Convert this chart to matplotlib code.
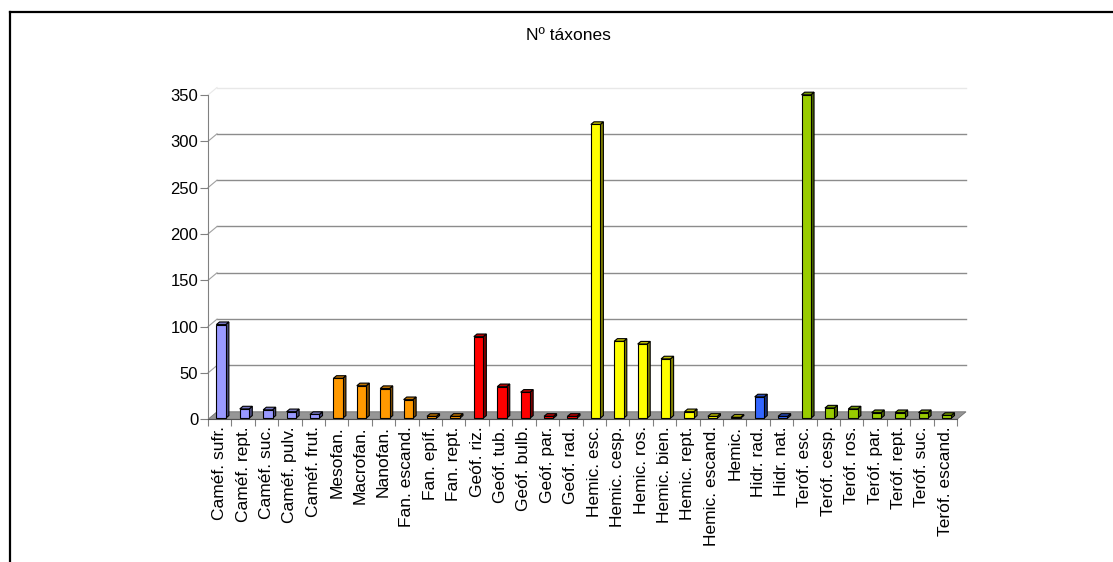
import matplotlib
matplotlib.use("Agg")
import matplotlib.pyplot as plt
from matplotlib.patches import Polygon
from matplotlib.transforms import IdentityTransform, ScaledTranslation
from matplotlib.lines import Line2D
import matplotlib.colors as mcolors
import numpy as np

# ---------------- data ----------------
categories = [
    "Caméf. sufr.", "Caméf. rept.", "Caméf. suc.", "Caméf. pulv.", "Caméf. frut.",
    "Mesofan.", "Macrofan.", "Nanofan.", "Fan. escand.", "Fan. epíf.", "Fan. rept.",
    "Geóf. riz.", "Geóf. tub.", "Geóf. bulb.", "Geóf. par.", "Geóf. rad.",
    "Hemic. esc.", "Hemic. cesp.", "Hemic. ros.", "Hemic. bien.", "Hemic. rept.",
    "Hemic. escand.", "Hemic.",
    "Hidr. rad.", "Hidr. nat.",
    "Teróf. esc.", "Teróf. cesp.", "Teróf. ros.", "Teróf. par.", "Teróf. rept.",
    "Teróf. suc.", "Teróf. escand.",
]
values = [
    101, 10, 9, 7, 4,
    43, 35, 32, 20, 2, 2,
    88, 34, 28, 2, 2,
    317, 83, 80, 64, 7, 2, 1,
    23, 2,
    349, 11, 10, 6, 6, 6, 3,
]
groups = (["Caméf"] * 5 + ["Fan"] * 6 + ["Geóf"] * 5 + ["Hemic"] * 7
          + ["Hidr"] * 2 + ["Teróf"] * 7)
group_colors = {
    "Caméf": "#9999FF",
    "Fan": "#FF9900",
    "Geóf": "#FF0000",
    "Hemic": "#FFFF00",
    "Hidr": "#3366FF",
    "Teróf": "#99CC00",
}
y_ticks = [0, 50, 100, 150, 200, 250, 300, 350]
title = "Nº táxones"

# ---------------- figure ----------------
plt.rcParams['font.family'] = ['Liberation Sans', 'DejaVu Sans']
W, H, DPI = 1113, 562, 100
fig = plt.figure(figsize=(W / DPI, H / DPI), dpi=DPI)
fig.patch.set_facecolor('white')

N = len(categories)
ax = fig.add_axes([208 / W, (H - 419.3) / H, 749 / W, 324.3 / H])
ax.set_xlim(0, N)
ax.set_ylim(0, max(y_ticks))
ax.patch.set_visible(False)
for s in ['top', 'right']:
    ax.spines[s].set_visible(False)
ax.spines['left'].set_color('#808080')
ax.spines['bottom'].set_color('#505050')
ax.spines['left'].set_zorder(6)
ax.spines['bottom'].set_zorder(6)

# y axis ticks
ax.set_yticks(y_ticks)
ax.set_yticklabels([str(v) for v in y_ticks], fontsize=12)
ax.tick_params(axis='y', direction='out', length=5.5, width=0.8, color='#808080',
               pad=1.5)
# x axis: boundary ticks (major) and labels at centres (minor)
ax.set_xticks(np.arange(0, N + 1))
ax.set_xticklabels([])
ax.set_xticks(np.arange(N) + 0.5, minor=True)
ax.set_xticklabels(categories, minor=True, rotation=90, fontsize=12.5,
                   va='top', ha='center')
ax.tick_params(axis='x', which='major', direction='out', length=5, width=0.8,
               color='#808080')
ax.tick_params(axis='x', which='minor', length=0, pad=5)

# 3D depth offset (pixels)
DX, DY = 9.0, 7.5
back = ax.transData + ScaledTranslation(DX / DPI, DY / DPI, fig.dpi_scale_trans)


def disp(x, y, f=0.0):
    p = ax.transData.transform((x, y))
    return (p[0] + DX * f, p[1] + DY * f)


# back-wall gridlines and connecting diagonals
for v in y_ticks[1:]:
    col = '#8c8c8c' if v < max(y_ticks) else '#e8e8e8'
    ax.plot([0, N], [v, v], transform=back, color=col, lw=1.0, clip_on=False,
            zorder=1)
    a = disp(0, v, 0)
    b = disp(0, v, 1)
    ax.add_line(Line2D([a[0], b[0]], [a[1], b[1]], transform=IdentityTransform(),
                       color='#a0a0a0' if v < max(y_ticks) else '#e8e8e8',
                       lw=0.8, clip_on=False, zorder=1))

# floor
floor = Polygon([disp(0, 0, 0), disp(N, 0, 0), disp(N, 0, 1), disp(0, 0, 1)],
                closed=True, transform=IdentityTransform(), facecolor='#969696',
                edgecolor='#707070', lw=0.6, clip_on=False, zorder=2)
ax.add_patch(floor)

# bars with 3D faces
bw = 0.40          # bar width in category units
f0, f1 = 0.15, 0.50  # bar depth span as fraction of total depth


def shade(c, k):
    r, g, b = mcolors.to_rgb(c)
    return (r * k, g * k, b * k)


for i, (v, g) in enumerate(zip(values, groups)):
    c = group_colors[g]
    x0 = i + 0.5 - bw / 2
    x1 = i + 0.5 + bw / 2
    front = [disp(x0, 0, f0), disp(x1, 0, f0), disp(x1, v, f0), disp(x0, v, f0)]
    side = [disp(x1, 0, f0), disp(x1, 0, f1), disp(x1, v, f1), disp(x1, v, f0)]
    top = [disp(x0, v, f0), disp(x1, v, f0), disp(x1, v, f1), disp(x0, v, f1)]
    for pts, fc in ((side, shade(c, 0.5)), (top, shade(c, 0.75)), (front, c)):
        ax.add_patch(Polygon(pts, closed=True, transform=IdentityTransform(),
                             facecolor=fc, edgecolor='black', lw=0.8,
                             clip_on=False, zorder=4, joinstyle='miter'))

# title
fig.text(568 / W, 1 - 36 / H, title, ha='center', va='center', fontsize=12.5)

# outer frame (left and top edges visible)
fig.add_artist(Line2D([10 / W, 10 / W], [0, 1 - 12 / H], transform=fig.transFigure,
                      color='black', lw=1.6))
fig.add_artist(Line2D([10 / W, 1], [1 - 12 / H, 1 - 12 / H], transform=fig.transFigure,
                      color='black', lw=1.6))

fig.savefig("out.png", dpi=DPI, facecolor='white')
